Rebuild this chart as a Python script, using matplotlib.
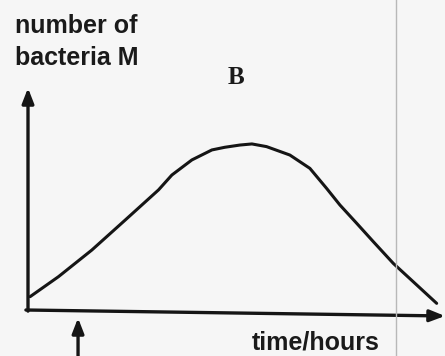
import matplotlib
matplotlib.use("Agg")
import matplotlib.pyplot as plt
from matplotlib.lines import Line2D

# data (arbitrary units; axes have no numeric ticks)
time_h = [0.05, 0.73, 1.53, 2.33, 2.73, 3.13, 3.45, 3.93, 4.41, 4.72, 5.08,
          5.37, 5.72, 6.28, 6.76, 7.16, 7.48, 7.88, 8.28, 8.76, 9.24, 9.80]
bacteria = [0.60, 1.50, 2.70, 4.05, 4.73, 5.41, 6.08, 6.76, 7.21, 7.33, 7.43,
            7.48, 7.36, 6.98, 6.38, 5.48, 4.73, 3.91, 3.08, 2.10, 1.27, 0.30]
y_label = ["number of", "bacteria M"]
x_label = "time/hours"
panel = "B"
marker_time = 1.2

W, H = 445, 356
fig = plt.figure(figsize=(W / 100, H / 100), dpi=100)
fig.patch.set_facecolor("#f6f6f6")

# faint scan fold line
fig.add_artist(Line2D([395.5 / W, 395.5 / W], [0, 1], color="#b8b8b8", lw=1.0))

ax = fig.add_axes([28 / W, (H - 310) / H, 417 / W, 222 / H])
ax.set_facecolor("none")
ax.set_xlim(0, 10)
ax.set_ylim(0, 10)
for s in ax.spines.values():
    s.set_visible(False)
ax.set_xticks([])
ax.set_yticks([])

ax.plot(time_h, bacteria, color="#151515", lw=2.2, solid_capstyle="round",
        solid_joinstyle="round", clip_on=False)

arrow_kw = dict(arrowstyle="-|>,head_length=0.9,head_width=0.35", color="#151515",
                lw=2.4, shrinkA=0, shrinkB=0)
# y axis
ax.annotate("", xy=(0, 1.0), xytext=(0, -0.005), xycoords="axes fraction",
            arrowprops=arrow_kw, annotation_clip=False)
# x axis (slightly slanted as in the scan)
ax.annotate("", xy=(1.0, -0.027), xytext=(-0.005, 0), xycoords="axes fraction",
            arrowprops=arrow_kw, annotation_clip=False)
# small marker arrow under the time axis
ax.annotate("", xy=(marker_time, -0.036), xytext=(marker_time, -0.22),
            xycoords=("data", "axes fraction"), arrowprops=arrow_kw,
            annotation_clip=False)

font = dict(family="Liberation Sans", fontsize=18, weight="bold", color="#1a1a1a")
fig.text(15 / W, (H - 33) / H, y_label[0], va="baseline", ha="left", **font)
fig.text(15 / W, (H - 65) / H, y_label[1], va="baseline", ha="left", **font)
fig.text(252 / W, (H - 350) / H, x_label, va="baseline", ha="left", **font)
fig.text(236 / W, (H - 84) / H, panel, va="baseline", ha="center",
         family="Liberation Serif", fontsize=18, weight="bold", color="#1a1a1a")

fig.savefig("out.png", dpi=100, facecolor=fig.get_facecolor())
